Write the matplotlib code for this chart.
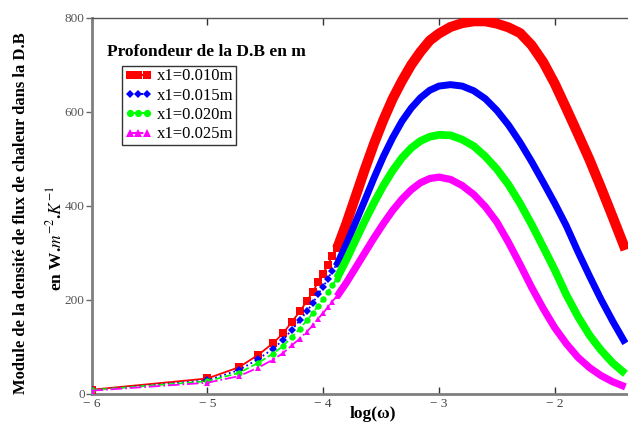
import matplotlib
matplotlib.use("Agg")
import matplotlib.pyplot as plt
from matplotlib.lines import Line2D

# ---- data (x = log(omega), y = module in W.m-2.K-1) ----
# sparse low-frequency points (individual markers visible)
x_sparse = [-6.0, -5.0, -4.727, -4.563, -4.434, -4.347, -4.270, -4.201, -4.141,
            -4.089, -4.045, -4.002, -3.959, -3.924, -3.881]
red_sparse = [8, 32, 56, 82, 107, 128, 153, 175, 197, 217, 237, 255, 274, 293, 309]
blue_sparse = [7, 28, 50, 73, 95, 114, 136, 156, 175, 193, 211, 227, 244, 261, 275]
green_sparse = [7, 26, 44, 65, 85, 101, 121, 138, 156, 171, 187, 201, 216, 231, 244]
mag_sparse = [6, 23, 37, 55, 72, 86, 103, 117, 132, 145, 159, 171, 184, 196, 207]

# dense part (markers merge into a thick band)
red_dense_x = [-3.88, -3.80, -3.72, -3.64, -3.56, -3.48, -3.40, -3.32, -3.24, -3.16,
               -3.08, -3.00, -2.90, -2.80, -2.70, -2.60, -2.50, -2.40, -2.30, -2.20,
               -2.10, -2.00, -1.90, -1.80, -1.70, -1.60, -1.50, -1.40, -1.39]
red_dense_y = [309, 362, 420, 478, 533, 583, 628, 666, 700, 728,
               752, 767, 781, 789, 793, 793, 788, 780, 768, 742,
               706, 660, 607, 553, 498, 438, 376, 313, 306]

blue_dense_x = [-3.88, -3.80, -3.72, -3.64, -3.56, -3.48, -3.40, -3.32, -3.24, -3.16,
                -3.08, -3.00, -2.90, -2.80, -2.70, -2.60, -2.50, -2.40, -2.30, -2.20,
                -2.10, -2.00, -1.90, -1.80, -1.70, -1.60, -1.50, -1.40, -1.39]
blue_dense_y = [275, 318, 365, 412, 460, 505, 545, 580, 608, 630,
                646, 655, 658, 655, 645, 628, 603, 572, 535, 494,
                450, 405, 357, 302, 250, 200, 154, 111, 107]

green_dense_x = [-3.88, -3.80, -3.72, -3.64, -3.56, -3.48, -3.40, -3.32, -3.24, -3.16,
                 -3.08, -3.00, -2.90, -2.80, -2.70, -2.60, -2.50, -2.40, -2.30, -2.20,
                 -2.10, -2.00, -1.90, -1.80, -1.70, -1.60, -1.50, -1.40, -1.39]
green_dense_y = [246, 285, 327, 368, 407, 443, 475, 502, 523, 538,
                 547, 551, 550, 541, 527, 505, 478, 445, 405, 360,
                 312, 263, 210, 164, 124, 92, 65, 44, 42]

mag_dense_x = [-3.88, -3.80, -3.72, -3.64, -3.56, -3.48, -3.40, -3.32, -3.24, -3.16,
               -3.08, -3.00, -2.90, -2.80, -2.70, -2.60, -2.50, -2.40, -2.30, -2.20,
               -2.10, -2.00, -1.90, -1.80, -1.70, -1.60, -1.50, -1.40, -1.39]
mag_dense_y = [207, 236, 268, 300, 332, 362, 390, 414, 434, 449,
               458, 461, 456, 443, 424, 398, 365, 322, 275, 226,
               181, 140, 106, 77, 55, 38, 25, 15, 14]

labels = ["x1=0.010m", "x1=0.015m", "x1=0.020m", "x1=0.025m"]
x_ticks = [-6, -5, -4, -3, -2]
x_tick_labels = ["\u2212 6", "\u2212 5", "\u2212 4", "\u2212 3", "\u2212 2"]
y_ticks = [0, 200, 400, 600, 800]
y_tick_labels = ["0", "200", "400", "600", "800"]

plt.rcParams["font.family"] = ["Liberation Serif", "DejaVu Serif"]
plt.rcParams["mathtext.fontset"] = "stix"

W, H = 628, 425
fig = plt.figure(figsize=(W / 100, H / 100), dpi=100)
left, right, top, bottom = 91.6, 628, 18, 393.5
ax = fig.add_axes([left / W, 1 - bottom / H, (right - left) / W, (bottom - top) / H])

series = [
    (red_sparse, red_dense_x, red_dense_y, "#ff0000", "-", "s", 5.5, 7.2),
    (blue_sparse, blue_dense_x, blue_dense_y, "#0000ff", ":", "D", 3.6, 5.0),
    (green_sparse, green_dense_x, green_dense_y, "#00ff00", "--", "o", 4.6, 5.6),
    (mag_sparse, mag_dense_x, mag_dense_y, "#ff00ff", "-.", "^", 4.8, 5.2),
]

handles = []
for (ys, dx, dy, c, ls, mk, ms, thick), lab in zip(series, labels):
    ax.plot(x_sparse, ys, color=c, ls=ls, lw=1.3, marker=mk, ms=ms,
            markeredgewidth=0, zorder=3)
    ax.plot(dx, dy, color=c, ls="-", lw=thick, solid_capstyle="butt",
            solid_joinstyle="round", zorder=3)
    handles.append(Line2D([0], [0], color=c, ls=ls, lw=1.5, marker=mk,
                          ms=ms + 0.6, markeredgewidth=0))

ax.set_xlim(-6, -6 + (right - left) / 115.8)
ax.set_ylim(0, 800)
ax.set_xticks(x_ticks)
ax.set_xticklabels(x_tick_labels)
ax.set_yticks(y_ticks)
ax.set_yticklabels(y_tick_labels)

ax.tick_params(axis="x", direction="in", length=5, width=1, color="#333333",
               labelsize=9.5, labelcolor="#444444", pad=3, top=True)
ax.tick_params(axis="y", direction="out", length=4, width=1, color="#666666",
               labelsize=9.5, labelcolor="#555555", pad=1)

for s in ["left", "bottom"]:
    ax.spines[s].set_color("#7f7f7f")
    ax.spines[s].set_linewidth(2)
ax.spines["top"].set_color("#555555")
ax.spines["top"].set_linewidth(1)
ax.spines["right"].set_visible(False)

leg = ax.legend(handles, labels, loc="upper left", numpoints=3,
                bbox_to_anchor=((122 - left) / (right - left), (bottom - 66) / (bottom - top)),
                borderaxespad=0, frameon=True, fancybox=False, fontsize=12,
                handlelength=1.65, handletextpad=0.3, labelspacing=0.2,
                borderpad=0.15)
leg.get_frame().set_edgecolor("black")
leg.get_frame().set_linewidth(1)

fig.text(206 / W, 1 - 52 / H, "Profondeur de la D.B en m", ha="center", va="center",
         fontsize=12.5, fontweight="bold")
fig.text(21 / W, 1 - 213 / H, "Module de la densité de flux de chaleur dans la D.B",
         rotation=90, ha="center", va="center", fontsize=12, fontweight="bold")
fig.text(55 / W, 1 - 238 / H, r"en W.$m^{-2}$.$K^{-1}$",
         rotation=90, ha="center", va="center", fontsize=12.5, fontweight="bold")
fig.text(373 / W, 1 - 414 / H, "log(\u03c9)", ha="center", va="center",
         fontsize=12.5, fontweight="bold")

fig.savefig("out.png", dpi=100)
